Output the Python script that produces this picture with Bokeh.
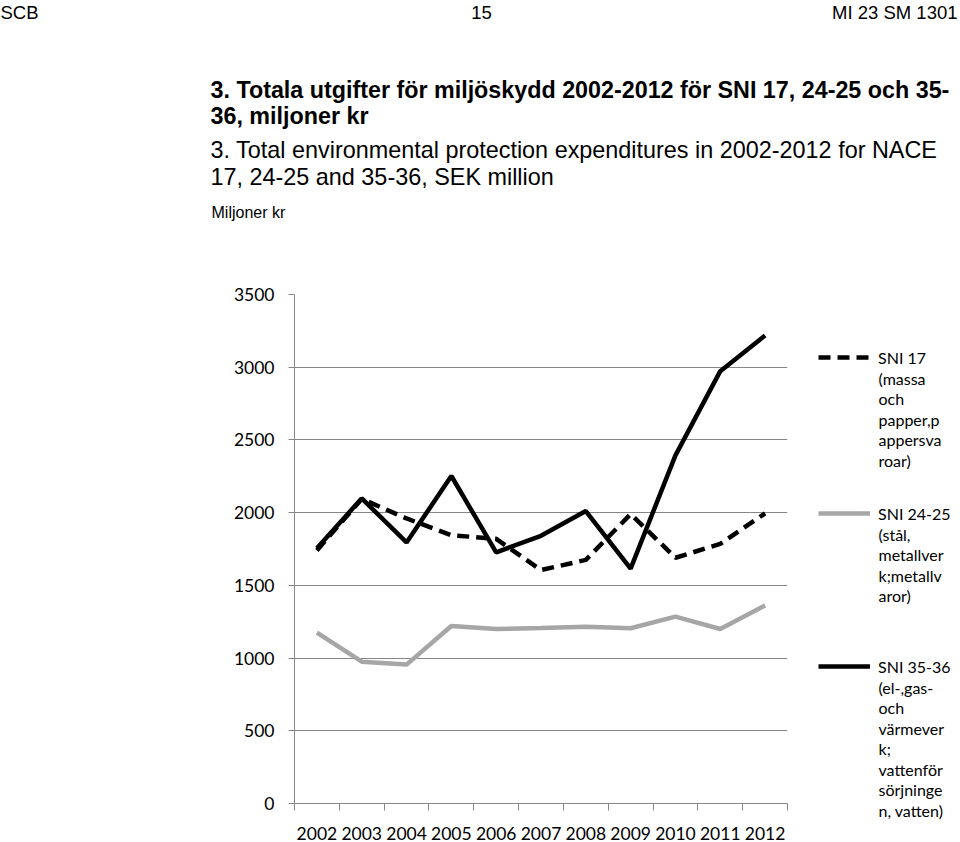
from bokeh.plotting import figure
from bokeh.layouts import column, row
from bokeh.models import Range1d, FixedTicker, Label, Legend, LegendItem
from bokeh.embed import file_html
from bokeh.resources import INLINE

# ---------------- data ----------------
years = [2002, 2003, 2004, 2005, 2006, 2007, 2008, 2009, 2010, 2011, 2012]
sni_17 = [1740, 2095, 1960, 1845, 1820, 1605, 1675, 1990, 1690, 1785, 1995]
sni_24_25 = [1175, 975, 955, 1220, 1200, 1207, 1215, 1205, 1285, 1200, 1362]
sni_35_36 = [1755, 2098, 1795, 2252, 1727, 1841, 2011, 1615, 2394, 2973, 3218]
y_ticks = [0, 500, 1000, 1500, 2000, 2500, 3000, 3500]

legend_17 = ["SNI 17", "(massa", "och", "papper,p", "appersva", "roar)"]
legend_24_25 = ["SNI 24-25", "(stål,", "metallver", "k;metallv", "aror)"]
legend_35_36 = ["SNI 35-36", "(el-,gas-", "och", "värmever", "k;", "vattenför",
                "sörjninge", "n, vatten)"]

header_left = "SCB"
header_mid = "15"
header_right = "MI 23 SM 1301"
title_sv = ["3. Totala utgifter för miljöskydd 2002-2012 för SNI 17, 24-25 och 35-",
            "36, miljoner kr"]
title_en = ["3. Total environmental protection expenditures in 2002-2012 for NACE",
            "17, 24-25 and 35-36, SEK million"]
unit_label = "Miljoner kr"

# ---------------- layout constants (page pixels) ----------------
W, H = 960, 842
TOP_H = 274                      # height of the header/title strip
FL, FR, FT, FB = 294, 787, 294, 804
MAIN_W = FR + 2
GRID = "#868686"
GREY = "#a6a6a6"
AX_FONT = "Lato"
TXT_FONT = "Liberation Sans"

year_bounds = [y - 0.5 for y in years] + [years[-1] + 0.5]


def blank_figure(w, h, xr, yr):
    f = figure(width=w, height=h, output_backend="svg", toolbar_location=None,
               title=None, x_range=Range1d(*xr), y_range=Range1d(*yr),
               x_axis_type=None, y_axis_type=None,
               min_border=0, min_border_left=0, min_border_right=0,
               min_border_top=0, min_border_bottom=0)
    f.outline_line_color = None
    f.xgrid.visible = False
    f.ygrid.visible = False
    f.background_fill_color = "white"
    f.border_fill_color = "white"
    return f


def add_text(f, x, y, text, font, size, style="normal", align="left"):
    # y is the visual middle of the text line
    f.add_layout(Label(x=x, y=y, text=text, text_font=font, text_font_size=size,
                       text_font_style=style, text_align=align,
                       text_baseline="middle", text_color="black"))


# ---------------- header / titles ----------------
top = blank_figure(W, TOP_H, (0, W), (TOP_H, 0))
add_text(top, 0, 12, header_left, TXT_FONT, "18.5px")
add_text(top, 481, 12, header_mid, TXT_FONT, "18.5px", align="center")
add_text(top, 957, 12, header_right, TXT_FONT, "18.5px", align="right")
add_text(top, 210, 89, title_sv[0], TXT_FONT, "23.3px", style="bold")
add_text(top, 210, 115, title_sv[1], TXT_FONT, "23.3px", style="bold")
add_text(top, 210, 149, title_en[0], TXT_FONT, "23.4px")
add_text(top, 210, 176, title_en[1], TXT_FONT, "23.4px")
add_text(top, 211, 212, unit_label, TXT_FONT, "16px")

# ---------------- main chart ----------------
p = figure(width=MAIN_W, height=H - TOP_H, output_backend="svg", toolbar_location=None,
           title=None,
           x_range=Range1d(year_bounds[0], year_bounds[-1]),
           y_range=Range1d(y_ticks[0], y_ticks[-1]),
           min_border_left=FL, min_border_right=MAIN_W - FR,
           min_border_top=FT - TOP_H, min_border_bottom=H - FB)
p.outline_line_color = None
p.background_fill_color = "white"
p.border_fill_color = "white"

p.xgrid.visible = False
yt = FixedTicker(ticks=y_ticks)
p.yaxis.ticker = yt
p.ygrid.ticker = yt
p.ygrid.grid_line_color = GRID
p.ygrid.grid_line_width = 1

ya = p.yaxis[0]
ya.axis_line_color = GRID
ya.major_tick_line_color = GRID
ya.major_tick_out = 6
ya.major_tick_in = 0
ya.minor_tick_line_color = None
ya.major_label_standoff = 14
ya.major_label_text_font = AX_FONT
ya.major_label_text_font_size = "17.5px"
ya.major_label_text_color = "black"

xa = p.xaxis[0]
xa.ticker = FixedTicker(ticks=years, minor_ticks=year_bounds)
xa.axis_line_color = GRID
xa.major_tick_out = 0
xa.major_tick_in = 0
xa.minor_tick_line_color = GRID
xa.minor_tick_out = 7
xa.minor_tick_in = 0
xa.major_label_standoff = 16
xa.major_label_text_font = AX_FONT
xa.major_label_text_font_size = "17.5px"
xa.major_label_text_color = "black"

STYLE_17 = dict(line_color="black", line_width=4.5, line_dash="12 7")
STYLE_24_25 = dict(line_color=GREY, line_width=4.5)
STYLE_35_36 = dict(line_color="black", line_width=4.5)

p.line(years, sni_17, **STYLE_17)
p.line(years, sni_24_25, **STYLE_24_25)
p.line(years, sni_35_36, **STYLE_35_36)

# ---------------- legend strip ----------------
LG_W, LG_H = W - MAIN_W, H - TOP_H
lg = blank_figure(LG_W, LG_H, (MAIN_W, W), (H, TOP_H))
GW, GH = 52, 20
LEG_X = 818
LINE_STEP = 20.5
LEG_FONT = "16px"
for style, series, lines, centre in [(STYLE_17, sni_17, legend_17, 357),
                                     (STYLE_24_25, sni_24_25, legend_24_25, 513),
                                     (STYLE_35_36, sni_35_36, legend_35_36, 666)]:
    # the series itself lies far outside this strip's ranges; it only feeds the legend
    sample = lg.line(years, series, **style)
    leg = Legend(items=[LegendItem(label=lines[0], renderers=[sample])],
                 location=(LEG_X - MAIN_W, H - (centre + GH / 2)),
                 glyph_width=GW, glyph_height=GH, label_standoff=8,
                 padding=0, margin=0, spacing=0,
                 border_line_color=None, background_fill_alpha=0,
                 label_text_font=AX_FONT, label_text_font_size=LEG_FONT,
                 label_text_color="black", label_height=GH)
    lg.add_layout(leg, "center")
    for i, line in enumerate(lines[1:], 1):
        add_text(lg, LEG_X + GW + 8, centre + i * LINE_STEP, line, AX_FONT, LEG_FONT)

layout = column(top, row(p, column(lg, spacing=0), spacing=0), spacing=0)
open("out.html", "w").write(file_html(layout, INLINE))
